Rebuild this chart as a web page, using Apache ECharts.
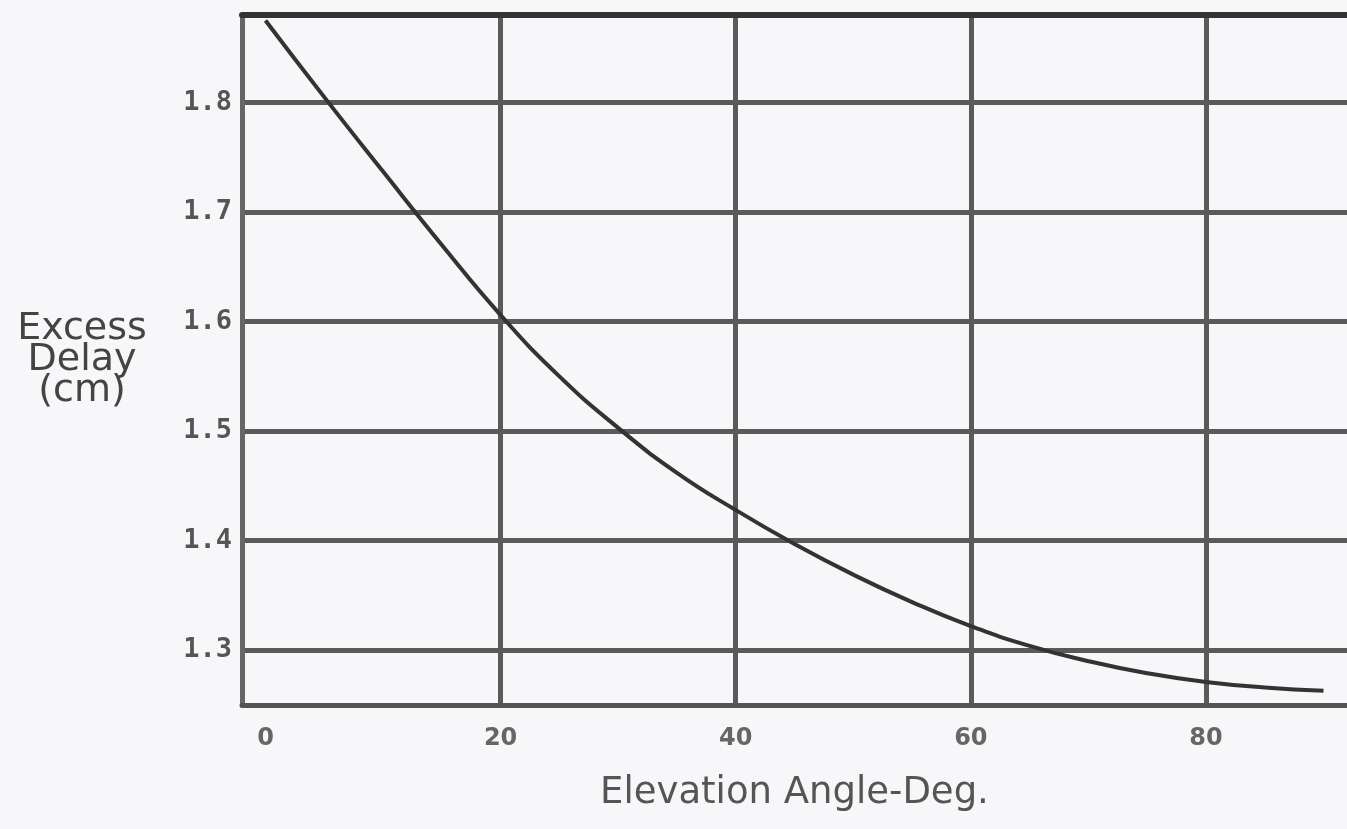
<!DOCTYPE html>
<html>
<head>
<meta charset="utf-8">
<script src="https://cdn.jsdelivr.net/npm/echarts@6/dist/echarts.min.js"></script>
<style>
html,body{margin:0;padding:0;background:#f7f7f9;}
#chart{width:1347px;height:829px;}
</style>
</head>
<body>
<div id="chart"></div>
<script>
// Data
var elevationDeg = [0, 5, 10, 15, 20, 25, 30, 35, 40, 45, 50, 55, 60, 65, 70, 75, 80, 85, 90];
var excessDelayCm = [1.875, 1.805, 1.737, 1.670, 1.606, 1.550, 1.503, 1.462, 1.428, 1.397, 1.369, 1.344, 1.322, 1.304, 1.290, 1.279, 1.271, 1.266, 1.263];
var xTickLabels = [0, 20, 40, 60, 80];
var xGridLines = [20, 40, 60, 80];
var yTicks = [1.3, 1.4, 1.5, 1.6, 1.7, 1.8];
var xName = 'Elevation Angle-Deg.';
var yName = 'Excess\nDelay\n(cm)';

var points = elevationDeg.map(function (x, i) { return [x, excessDelayCm[i]]; });

var chart = echarts.init(document.getElementById('chart'));
chart.setOption({
  backgroundColor: '#f7f7f9',
  animation: false,
  grid: { left: 242, top: 15, bottom: 124, right: -3, show: false },
  xAxis: [{
    type: 'value', min: -2, max: 92, position: 'bottom',
    name: xName, nameLocation: 'middle', nameGap: 70,
    nameTextStyle: { fontFamily: 'DejaVu Sans', fontSize: 37, color: '#555' },
    axisLine: { show: true, onZero: false, lineStyle: { color: '#555', width: 5 } },
    axisTick: { show: false, customValues: xGridLines },
    axisLabel: { customValues: xTickLabels, margin: 22, fontFamily: 'DejaVu Sans', fontWeight: 'bold', fontSize: 24, color: '#666' },
    splitLine: { show: true, lineStyle: { color: '#5a5a5a', width: 5 } }
  }, {
    type: 'value', min: -2, max: 92, position: 'top',
    axisLine: { show: true, onZero: false, lineStyle: { color: '#333', width: 6 } },
    axisTick: { show: false }, axisLabel: { show: false }, splitLine: { show: false }
  }],
  yAxis: {
    type: 'value', min: 1.25, max: 1.88,
    name: yName, nameLocation: 'middle', nameRotate: 0, nameGap: 160,
    nameTextStyle: { fontFamily: 'DejaVu Sans', fontSize: 38, color: '#444', align: 'center', verticalAlign: 'middle', lineHeight: 31 },
    axisLine: { show: true, onZero: false, lineStyle: { color: '#666', width: 5 } },
    axisTick: { show: false, customValues: yTicks },
    axisLabel: { customValues: yTicks, margin: 10, fontFamily: 'DejaVu Sans Mono', fontWeight: 'bold', fontSize: 27, color: '#555',
      formatter: function (v) { return v.toFixed(1); } },
    splitLine: { show: true, lineStyle: { color: '#5a5a5a', width: 5 } }
  },
  series: [{
    type: 'line', data: points, smooth: true, symbol: 'none',
    lineStyle: { color: '#333', width: 4 }
  }]
});
</script>
</body>
</html>
